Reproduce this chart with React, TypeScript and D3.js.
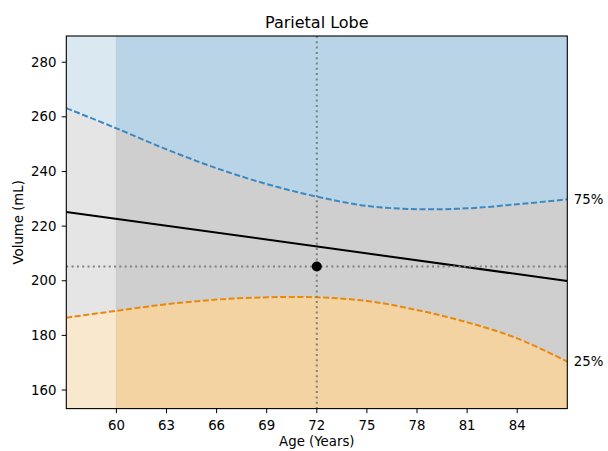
import React from "react";
import * as d3 from "d3";

const ages = [57, 60, 63, 66, 69, 72, 75, 78, 81, 84, 87];
const upper75 = [263.2, 255.8, 248.1, 241.2, 235.4, 230.8, 227.4, 226.2, 226.5, 228.0, 229.8];
const lower25 = [186.5, 189.0, 191.4, 193.1, 193.95, 193.95, 192.6, 189.3, 184.8, 178.9, 170.4];
const medianAges = [57, 87];
const medianVals = [225.2, 199.9];
const subjectAge = 72;
const subjectVol = 205.2;
const xTicks = [60, 63, 66, 69, 72, 75, 78, 81, 84];
const yTicks = [160, 180, 200, 220, 240, 260, 280];
const title = "Parietal Lobe";
const xLabel = "Age (Years)";
const yLabel = "Volume (mL)";
const refStart = 60;

const W = 608, H = 451;
const L = 66.3, R = 567.3, T = 36, B = 408.6;
const FONT = "DejaVu Sans, sans-serif";

export default function App() {
  const x = d3.scaleLinear().domain([57, 87]).range([L, R]);
  const y = d3.scaleLinear().domain([153.2, 289.6]).range([B, T]);
  const up = ages.map((a, i) => [a, upper75[i]] as [number, number]);
  const lo = ages.map((a, i) => [a, lower25[i]] as [number, number]);
  const curve = d3.curveCatmullRom;
  const line = d3.line<[number, number]>().x(d => x(d[0])).y(d => y(d[1])).curve(curve);
  const areaTop = d3.area<[number, number]>().x(d => x(d[0])).y0(T).y1(d => y(d[1])).curve(curve);
  const areaBot = d3.area<[number, number]>().x(d => x(d[0])).y0(B).y1(d => y(d[1])).curve(curve);
  const medLine = d3.line<number>().x((_, i) => x(medianAges[i])).y(d => y(d));
  const lastA = ages[ages.length - 1];
  return (
    <svg width={W} height={H} style={{ position: "absolute", left: 0, top: 0, background: "#fff" }} fontFamily={FONT}>
      <defs>
        <clipPath id="plot"><rect x={L} y={T} width={R - L} height={B - T} /></clipPath>
      </defs>
      <g clipPath="url(#plot)">
        <rect x={L} y={T} width={R - L} height={B - T} fill="#cfcfcf" />
        <path d={areaTop(up) || ""} fill="#b9d4e7" />
        <path d={areaBot(lo) || ""} fill="#f4d3a3" />
        <rect x={L} y={T} width={x(refStart) - L} height={B - T} fill="#fff" opacity={0.47} />
        <line x1={x(refStart)} x2={x(refStart)} y1={T} y2={B} stroke="#000" strokeOpacity={0.06} strokeWidth={1.2} />
        <path d={line(up) || ""} fill="none" stroke="#3a89c2" strokeWidth={2} strokeDasharray="6,2.6" />
        <path d={line(lo) || ""} fill="none" stroke="#e8890c" strokeWidth={2} strokeDasharray="6,2.6" />
        <path d={medLine(medianVals) || ""} fill="none" stroke="#000" strokeWidth={2} />
        <line x1={x(subjectAge)} x2={x(subjectAge)} y1={T} y2={B} stroke="#808080" strokeWidth={2} strokeDasharray="2,3.3" />
        <line x1={L} x2={R} y1={y(subjectVol)} y2={y(subjectVol)} stroke="#808080" strokeWidth={2} strokeDasharray="2,3.3" />
        <circle cx={x(subjectAge)} cy={y(subjectVol)} r={5} fill="#000" />
      </g>
      <rect x={L} y={T} width={R - L} height={B - T} fill="none" stroke="#000" strokeWidth={1.1} />
      {xTicks.map(t => (
        <g key={"x" + t}>
          <line x1={x(t)} x2={x(t)} y1={B} y2={B + 4.6} stroke="#000" strokeWidth={1} />
          <text x={x(t)} y={430} textAnchor="middle" fontSize={13.3} fill="#000">{t}</text>
        </g>
      ))}
      {yTicks.map(t => (
        <g key={"y" + t}>
          <line x1={L - 4.6} x2={L} y1={y(t)} y2={y(t)} stroke="#000" strokeWidth={1} />
          <text x={56.5} y={y(t)} textAnchor="end" dominantBaseline="central" fontSize={13.3} fill="#000">{t}</text>
        </g>
      ))}
      <text x={x(lastA) + 6.5} y={y(upper75[upper75.length - 1])} dominantBaseline="central" fontSize={13.3} fill="#000">75%</text>
      <text x={x(lastA) + 6.5} y={y(lower25[lower25.length - 1])} dominantBaseline="central" fontSize={13.3} fill="#000">25%</text>
      <text x={(L + R) / 2} y={27.5} textAnchor="middle" fontSize={16} fill="#000">{title}</text>
      <text x={(L + R) / 2} y={446} textAnchor="middle" fontSize={13.3} fill="#000">{xLabel}</text>
      <text transform={`translate(22.5,${(T + B) / 2}) rotate(-90)`} textAnchor="middle" fontSize={13.3} fill="#000">{yLabel}</text>
    </svg>
  );
}
